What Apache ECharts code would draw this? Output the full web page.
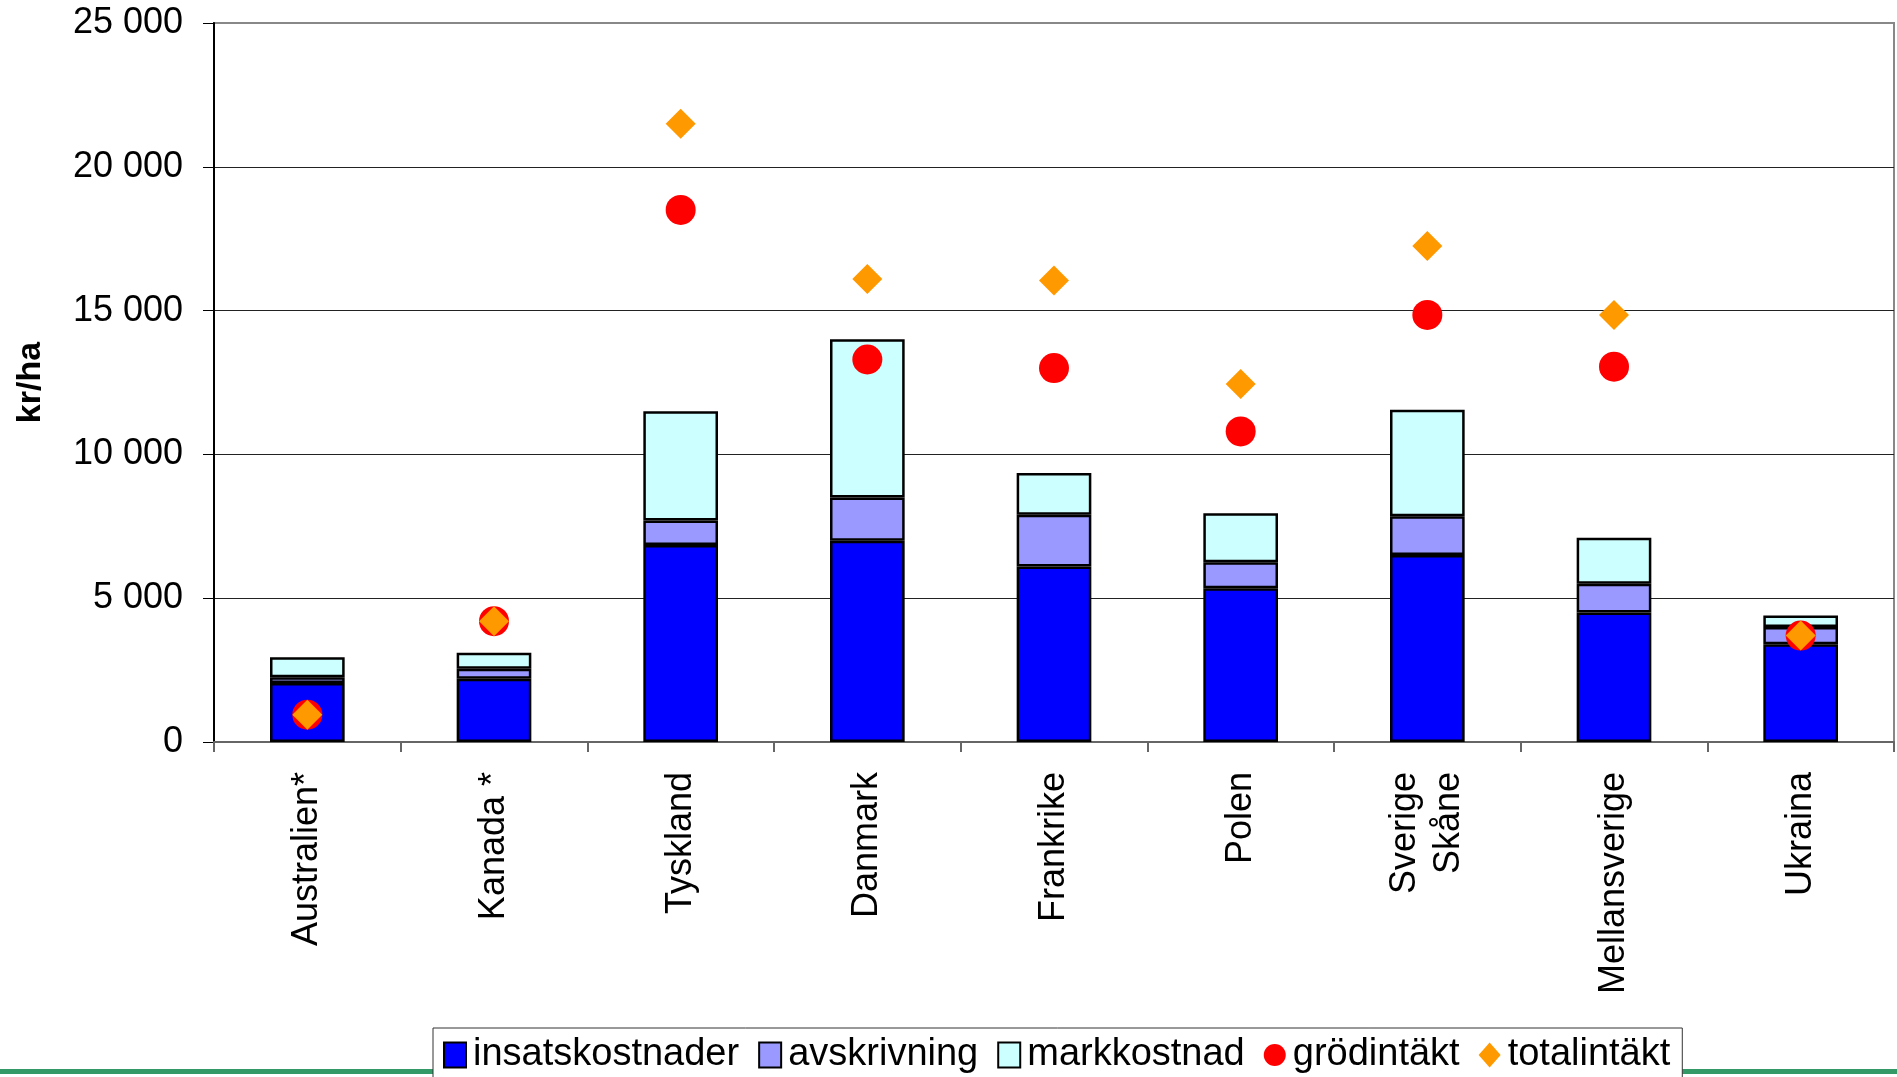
<!DOCTYPE html>
<html>
<head>
<meta charset="utf-8">
<script src="https://cdn.jsdelivr.net/npm/echarts@6/dist/echarts.min.js"></script>
<style>
html,body{margin:0;padding:0;background:#fff;}
#chart{width:1897px;height:1077px;}
</style>
</head>
<body>
<div id="chart"></div>
<script>
var categories = ['Australien*','Kanada *','Tyskland','Danmark','Frankrike','Polen','Sverige\nSkåne','Mellansverige','Ukraina'];
// stacked segment heights (kr/ha)
var insatskostnader = [2050, 2200, 6850, 7000, 6100, 5350, 6500, 4500, 3400];
var avskrivning     = [200, 350, 850, 1500, 1800, 900, 1350, 1000, 600];
var markkostnad     = [700, 550, 3800, 5500, 1450, 1700, 3700, 1600, 400];
var grodintakt      = [950, 4200, 18500, 13300, 13000, 10800, 14850, 13050, 3700];
var totalintakt     = [950, 4200, 21500, 16100, 16050, 12450, 17250, 14850, 3700];
var yTicks = [0, 5000, 10000, 15000, 20000, 25000];

var FONT = '"Liberation Sans", Arial, sans-serif';
var barBorder = {borderColor:'#000', borderWidth:2.5};

var chart = echarts.init(document.getElementById('chart'), null, {renderer:'canvas'});
chart.setOption({
  animation:false,
  backgroundColor:'#fff',
  textStyle:{fontFamily:FONT},
  grid:{left:214, right:3, top:23, bottom:335, show:true, borderColor:'#888', borderWidth:2, backgroundColor:'#fff'},
  legend:{
    left:433, top:1028,
    backgroundColor:'#fff', borderColor:'#333', borderWidth:1,
    padding:[8,12,20,10],
    itemGap:19, itemWidth:22, itemHeight:25,
    textStyle:{fontFamily:FONT, fontSize:38, color:'#000', padding:[0,0,0,2]},
    data:[
      {name:'insatskostnader', icon:'rect'},
      {name:'avskrivning', icon:'rect'},
      {name:'markkostnad', icon:'rect'},
      {name:'grödintäkt', icon:'circle'},
      {name:'totalintäkt', icon:'diamond'}
    ]
  },
  xAxis:{
    type:'category', data:categories,
    axisLine:{show:true, lineStyle:{color:'#666', width:2}},
    axisTick:{show:true, alignWithLabel:false, length:10, lineStyle:{color:'#666', width:2}},
    axisLabel:{rotate:90, margin:30, fontSize:36, color:'#000', fontFamily:FONT, lineHeight:44, interval:0},
    splitLine:{show:false}
  },
  yAxis:{
    type:'value', min:yTicks[0], max:yTicks[yTicks.length-1], interval:yTicks[1]-yTicks[0],
    name:'kr/ha', nameLocation:'middle', nameGap:166,
    nameTextStyle:{fontFamily:FONT, fontSize:34, fontWeight:'bold', color:'#000'},
    axisLine:{show:true, lineStyle:{color:'#000', width:2}},
    axisTick:{show:true, inside:false, length:11, lineStyle:{color:'#000', width:1}},
    axisLabel:{margin:31, fontSize:36, color:'#000', fontFamily:FONT,
      formatter:function(v){return String(v).replace(/\B(?=(\d{3})+(?!\d))/g,' ');}},
    splitLine:{show:true, lineStyle:{color:['#000','#222','#222','#222','#222','#888'], width:1}}
  },
  series:[
    {name:'insatskostnader', type:'bar', stack:'k', data:insatskostnader, barCategoryGap:'60%',
      itemStyle:Object.assign({color:'#0000FF'}, barBorder)},
    {name:'avskrivning', type:'bar', stack:'k', data:avskrivning,
      itemStyle:Object.assign({color:'#9999FF'}, barBorder)},
    {name:'markkostnad', type:'bar', stack:'k', data:markkostnad,
      itemStyle:Object.assign({color:'#CCFFFF'}, barBorder)},
    {name:'grödintäkt', type:'scatter', data:grodintakt, symbol:'circle', symbolSize:30, z:5,
      itemStyle:{color:'#FF0000', opacity:1}},
    {name:'totalintäkt', type:'scatter', data:totalintakt, symbol:'diamond', symbolSize:30, z:6,
      itemStyle:{color:'#FF9900', opacity:1}}
  ],
  graphic:[
    {type:'rect', left:0, top:1069, shape:{width:1897, height:5}, style:{fill:'#339966'}, z:-1, silent:true}
  ]
});
</script>
</body>
</html>
